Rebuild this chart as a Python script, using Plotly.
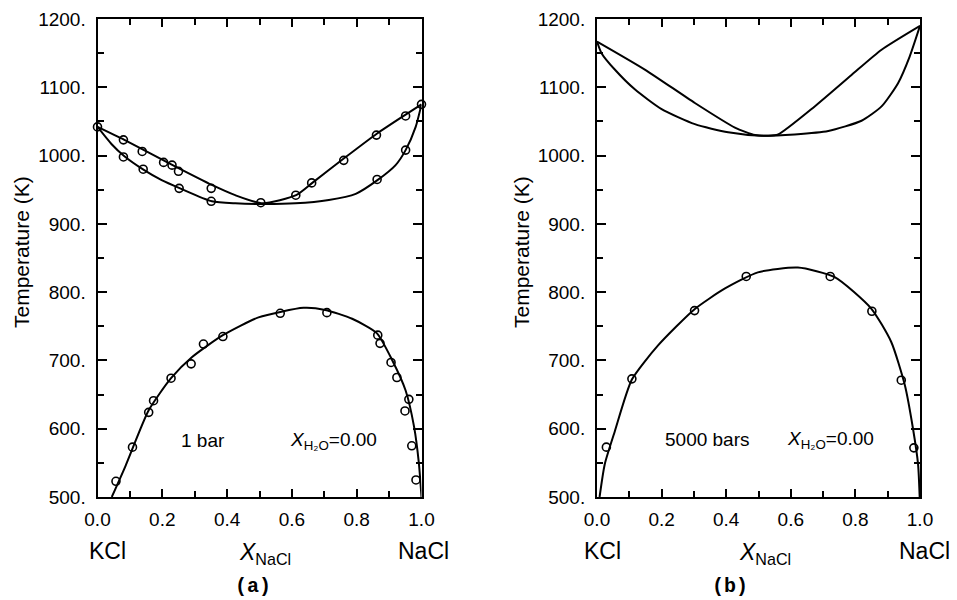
import plotly.graph_objects as go

# ---------------- data: panel (a) 1 bar ----------------
a_liq_x = [0.0, 0.083, 0.232, 0.353, 0.425, 0.51, 0.613, 0.663, 0.761, 0.862, 0.951, 1.0]
a_liq_T = [1042, 1023, 986, 957, 942, 930, 942, 960, 996, 1032, 1060, 1075]
a_sol_x = [0.0, 0.043, 0.083, 0.143, 0.198, 0.255, 0.353, 0.425, 0.506, 0.611, 0.714, 0.797, 0.864, 0.92, 0.951, 0.982, 1.0]
a_sol_T = [1042, 1017, 999, 979, 964, 952, 933, 930, 929, 930, 935, 944, 964, 986, 1008, 1042, 1075]
a_top_pts_x = [0.0, 0.08, 0.08, 0.138, 0.141, 0.204, 0.23, 0.25, 0.252, 0.351, 0.351, 0.504, 0.612, 0.661, 0.76, 0.861, 0.863, 0.951, 0.951, 1.0]
a_top_pts_T = [1042, 1023, 998, 1006, 980, 990, 986, 977, 952, 952, 933, 931, 942, 960, 993, 1030, 965, 1058, 1008, 1075]
a_solv_x = [0.044, 0.086, 0.158, 0.227, 0.292, 0.387, 0.497, 0.636, 0.703, 0.786, 0.862, 0.91, 0.951, 0.977, 0.992, 1.0]
a_solv_T = [500, 545, 627, 674, 705, 737, 763, 777, 774, 761, 740, 700, 656, 603, 549, 500]
a_solv_pts_x = [0.057, 0.108, 0.158, 0.173, 0.227, 0.289, 0.327, 0.387, 0.564, 0.708, 0.865, 0.872, 0.906, 0.924, 0.961, 0.949, 0.97, 0.983]
a_solv_pts_T = [523, 573, 624, 641, 674, 695, 724, 735, 769, 770, 737, 725, 697, 675, 643, 626, 575, 525]

# ---------------- data: panel (b) 5000 bars ----------------
b_liq_x = [0.0, 0.148, 0.303, 0.427, 0.489, 0.53, 0.561, 0.674, 0.788, 0.881, 1.0]
b_liq_T = [1167, 1126, 1077, 1041, 1030, 1029, 1031, 1072, 1118, 1155, 1190]
b_sol_x = [0.0, 0.014, 0.055, 0.117, 0.2, 0.303, 0.406, 0.509, 0.612, 0.716, 0.819, 0.881, 0.932, 0.968, 1.0]
b_sol_T = [1167, 1150, 1126, 1097, 1068, 1046, 1034, 1029, 1031, 1036, 1051, 1072, 1106, 1145, 1190]
b_solv_x = [0.008, 0.024, 0.055, 0.108, 0.189, 0.302, 0.395, 0.498, 0.622, 0.736, 0.849, 0.911, 0.953, 0.978, 0.994, 0.999]
b_solv_T = [500, 548, 596, 672, 722, 775, 805, 829, 836, 822, 776, 727, 664, 601, 548, 500]
b_solv_pts_x = [0.029, 0.108, 0.302, 0.462, 0.722, 0.851, 0.942, 0.981]
b_solv_pts_T = [573, 673, 773, 823, 823, 772, 671, 572]

x_tick_vals = [0.0, 0.2, 0.4, 0.6, 0.8, 1.0]
x_tick_text = ["0.0", "0.2", "0.4", "0.6", "0.8", "1.0"]
y_tick_vals = [500, 600, 700, 800, 900, 1000, 1100, 1200]
y_tick_text = ["500.", "600.", "700.", "800.", "900.", "1000.", "1100.", "1200."]

FONT = "Liberation Sans, Arial, sans-serif"
LW = 2

# page body has an 8 px margin: figure drawn 949x592 and placed at (8, 8)
OFF = 8
W, H = 957 - OFF, 600 - OFF

def fx(px):
    return (px - OFF) / W

def fy(py):
    return 1 - (py - OFF) / H

fig = go.Figure()

def curve(x, y, xa, ya):
    fig.add_trace(go.Scatter(x=x, y=y, mode="lines", xaxis=xa, yaxis=ya,
                             line=dict(color="black", width=LW, shape="spline", smoothing=0.6),
                             showlegend=False, hoverinfo="skip", cliponaxis=True))

def pts(x, y, xa, ya):
    fig.add_trace(go.Scatter(x=x, y=y, mode="markers", xaxis=xa, yaxis=ya,
                             marker=dict(symbol="circle-open", size=8, color="black", line=dict(width=1.6)),
                             showlegend=False, hoverinfo="skip", cliponaxis=False))

curve(a_liq_x, a_liq_T, "x", "y")
curve(a_sol_x, a_sol_T, "x", "y")
curve(a_solv_x, a_solv_T, "x", "y")
pts(a_top_pts_x, a_top_pts_T, "x", "y")
pts(a_solv_pts_x, a_solv_pts_T, "x", "y")

curve(b_liq_x, b_liq_T, "x2", "y2")
curve(b_sol_x, b_sol_T, "x2", "y2")
curve(b_solv_x, b_solv_T, "x2", "y2")
pts(b_solv_pts_x, b_solv_pts_T, "x2", "y2")

def xax(domain, anchor):
    return dict(domain=domain, anchor=anchor, range=[0, 1], tickmode="array",
                tickvals=x_tick_vals, ticktext=x_tick_text, ticks="inside", ticklen=8,
                tickwidth=1.5, tickcolor="black", mirror="allticks", showline=True,
                linewidth=2, linecolor="black", showgrid=False, zeroline=False,
                ticklabelstandoff=4, automargin=False, ticklabeloverflow="allow",
                minor=dict(tickmode="linear", tick0=0, dtick=0.1, ticks="inside",
                           ticklen=6, tickwidth=1.5, tickcolor="black", showgrid=False),
                tickfont=dict(family=FONT, size=19, color="black"))

def yax(domain, anchor):
    return dict(domain=domain, anchor=anchor, range=[500, 1200], tickmode="array",
                tickvals=y_tick_vals, ticktext=y_tick_text, ticks="inside", ticklen=9,
                tickwidth=1.5, tickcolor="black", mirror="allticks", showline=True,
                linewidth=2, linecolor="black", showgrid=False, zeroline=False,
                ticklabelstandoff=6, automargin=False, ticklabeloverflow="allow",
                minor=dict(tickmode="linear", tick0=500, dtick=50, ticks="inside",
                           ticklen=6, tickwidth=1.5, tickcolor="black", showgrid=False),
                tickfont=dict(family=FONT, size=19, color="black"))

ydom = [fy(497), fy(19)]
fig.update_layout(
    template="none",
    width=W, height=H,
    margin=dict(l=0, r=0, t=0, b=0, pad=0, autoexpand=False),
    paper_bgcolor="white", plot_bgcolor="white",
    xaxis=xax([fx(97.5), fx(421.5)], "y"),
    yaxis=yax(ydom, "x"),
    xaxis2=xax([fx(597), fx(920)], "y2"),
    yaxis2=yax(ydom, "x2"),
)

def note(text, px, py, size, family=FONT, angle=0):
    fig.add_annotation(text=text, x=fx(px), y=fy(py), xref="paper", yref="paper",
                       showarrow=False, xanchor="center", yanchor="middle", textangle=angle,
                       font=dict(family=family, size=size, color="black"))

# axis titles
note("Temperature (K)", 21, 252, 21, angle=-90)
note("Temperature (K)", 521, 252, 21, angle=-90)

# component labels
for kx, xx, nx in [(107, 265, 423), (602, 765, 924)]:
    note("KCl", kx, 551, 23)
    note("<i>X</i><sub>NaCl</sub>", xx, 553, 23)
    note("NaCl", nx, 551, 23)

note("<b>(a)</b>", 253, 586, 20, family="Liberation Mono, Courier New, monospace")
note("<b>(b)</b>", 730, 586, 20, family="Liberation Mono, Courier New, monospace")

# in-plot labels
note("1 bar", 203, 440, 19)
note("<i>X</i><sub>H₂O</sub>=0.00", 333, 441, 19)
note("5000 bars", 707, 439, 19)
note("<i>X</i><sub>H₂O</sub>=0.00", 830, 440, 19)

fig.write_html("out.html")
